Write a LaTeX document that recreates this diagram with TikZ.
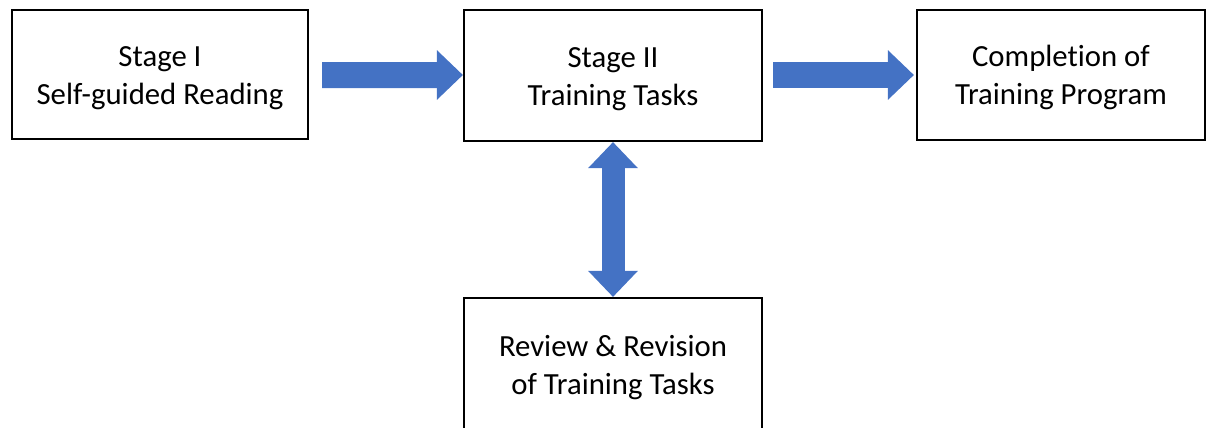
\documentclass[tikz,border=0pt]{standalone}
\usepackage{fontspec}
\setmainfont{Carlito}[Ligatures=NoCommon]
\usetikzlibrary{arrows.meta}
\definecolor{arrowblue}{HTML}{4472C4}

\tikzset{
	stage/.style={draw=black, line width=1.2pt, fill=white, align=center, inner sep=0pt,
		text height=37.5pt, text depth=3.6pt,
		font=\fontsize{17.5pt}{21.6pt}\selectfont},
	blockarrow/.style={draw=arrowblue, line width=0.52cm,
		-{Triangle[length=0.52cm, width=0.96cm]}},
	twoway/.style={draw=arrowblue, line width=0.46cm,
		{Triangle[length=0.52cm, width=0.96cm]}-{Triangle[length=0.52cm, width=0.96cm]}}
}

\begin{document}
\begin{tikzpicture}
	\clip (0,0) rectangle (24.18,-8.54);
	\node[stage, minimum width=5.92cm, minimum height=2.58cm] (s1) at (3.2,-1.49) {Stage I\\Self-guided Reading};
	\node[stage, minimum width=5.96cm, minimum height=2.62cm] (s2) at (12.26,-1.51) {Stage II\\Training Tasks};
	\node[stage, minimum width=5.76cm, minimum height=2.6cm] (done) at (21.22,-1.5) {Completion of\\Training Program};
	\node[stage, minimum width=5.96cm, minimum height=2.68cm] (rev) at (12.26,-7.3) {Review \& Revision\\of Training Tasks};
	\draw [blockarrow] ([xshift=0.26cm, yshift=-0.01cm]s1.east) -- ([yshift=0cm]s2.west |- 0,-1.5);
	\draw [blockarrow] ([xshift=0.2cm]s2.east |- 0,-1.5) -- ([xshift=-0.04cm]done.west |- 0,-1.5);
	\draw [twoway] (s2.south) -- (rev.north);
\end{tikzpicture}
\end{document}
